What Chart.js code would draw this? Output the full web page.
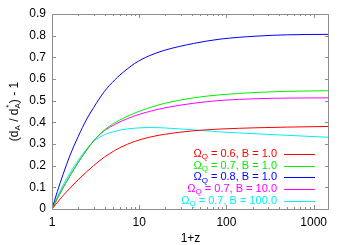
<!DOCTYPE html>
<html>
<head>
<meta charset="utf-8">
<script src="https://cdn.jsdelivr.net/npm/chart.js@4/dist/chart.umd.min.js"></script>
<style>
  html, body { margin: 0; padding: 0; background: #fff; }
</style>
</head>
<body>
<canvas id="grafico" width="349" height="245"></canvas>
<script>
// valores
const umMaisZ = [1, 1.15, 1.34, 1.6, 2, 2.5, 3, 4, 5.25, 6, 8.9, 13, 19.7, 42, 84.5, 224, 500, 1500];
const serieVermelha = [0, .03, .062, .095, .135, .172, .2, .24, .27, .283, .312, .331, .345, .361, .369, .375, .378, .381];
const serieVerde = [0, .048, .098, .152, .215, .272, .315, .365, .398, .411, .443, .467, .488, .513, .527, .538, .543, .546];
const serieAzul = [0, .08, .16, .245, .335, .415, .468, .543, .596, .618, .672, .707, .733, .764, .784, .798, .804, .806];
const serieMagenta = [0, .048, .098, .152, .215, .272, .315, .362, .39, .402, .43, .45, .467, .488, .501, .509, .512, .513];
const serieCiano = [0, .055, .11, .165, .225, .277, .312, .343, .358, .364, .373, .376, .374, .365, .356, .347, .34, .331];
const rotulosLegenda = [
    ['0.6', '1.0'],
    ['0.7', '1.0'],
    ['0.8', '1.0'],
    ['0.7', '10.0'],
    ['0.7', '100.0']
];
const ticksX = [1, 10, 100, 1000];
const ticksY = [0, 0.1, 0.2, 0.3, 0.4, 0.5, 0.6, 0.7, 0.8, 0.9];

const cores = ['rgb(255,0,0)', 'rgb(0,240,0)', 'rgb(0,0,255)', 'rgb(255,0,255)', 'rgb(0,240,240)'];
const series = [serieVermelha, serieVerde, serieAzul, serieMagenta, serieCiano];
const fonte = "'Liberation Sans', Arial, Helvetica, sans-serif";

const datasets = series.map((s, i) => ({
    label: 'Ω_Q = ' + rotulosLegenda[i][0] + ', B = ' + rotulosLegenda[i][1],
    data: umMaisZ.map((x, j) => ({x: x, y: s[j]})),
    borderColor: cores[i],
    borderWidth: 1,
    pointRadius: 0,
    fill: false,
    cubicInterpolationMode: 'monotone'
}));

// moldura, marcas, titulos e legenda no estilo gnuplot
const estiloGnuplot = {
    id: 'estiloGnuplot',
    afterDraw(chart) {
        const ctx = chart.ctx;
        const a = chart.chartArea;
        const sx = chart.scales.x, sy = chart.scales.y;
        ctx.save();
        ctx.strokeStyle = '#8c8c8c';
        ctx.lineWidth = 1;
        ctx.strokeRect(a.left + .5, a.top + .5, a.right - a.left - 1, a.bottom - a.top);
        ctx.beginPath();
        for (let d = 1; d <= 1000; d *= 10) {
            for (let k = 1; k <= 9; k++) {
                const v = d * k;
                if (v > 1500) break;
                const px = Math.round(sx.getPixelForValue(v)) + .5;
                const len = k === 1 ? 4 : 2;
                ctx.moveTo(px, a.bottom); ctx.lineTo(px, a.bottom - len);
                ctx.moveTo(px, a.top); ctx.lineTo(px, a.top + len);
            }
        }
        ticksY.forEach(v => {
            const py = Math.round(sy.getPixelForValue(v)) + .5;
            ctx.moveTo(a.left, py); ctx.lineTo(a.left + 4, py);
            ctx.moveTo(a.right, py); ctx.lineTo(a.right - 4, py);
        });
        ctx.stroke();

        // titulo do eixo x
        ctx.fillStyle = '#000';
        ctx.font = '12px ' + fonte;
        ctx.textAlign = 'center';
        ctx.textBaseline = 'middle';
        ctx.fillText('1+z', (a.left + a.right) / 2, 239);

        // titulo do eixo y: (d_A / d_A^*) - 1
        ctx.save();
        ctx.translate(15, (a.top + a.bottom) / 2);
        ctx.rotate(-Math.PI / 2);
        ctx.textAlign = 'left';
        ctx.textBaseline = 'middle';
        const partes = [
            ['(d', 0, 12], ['A', 3, 8], [' / d', 0, 12], ['A', 3, 8], [') - 1', 0, 12]
        ];
        let total = 0;
        partes.forEach(p => { ctx.font = p[2] + 'px ' + fonte; total += ctx.measureText(p[0]).width; });
        let cx = -total / 2;
        partes.forEach((p, i) => {
            ctx.font = p[2] + 'px ' + fonte;
            ctx.fillText(p[0], cx, p[1]);
            const w = ctx.measureText(p[0]).width;
            if (i === 3) {
                ctx.font = '8px ' + fonte;
                ctx.fillText('*', cx + w / 2 - 2, -6);
            }
            cx += w;
        });
        ctx.restore();

        // legenda
        const direita = 277;
        rotulosLegenda.forEach((r, i) => {
            const y = 154 + i * 11.7;
            const pedacos = [['Ω', 0, 11], ['Q', 3, 8], [' = ' + r[0] + ', B = ' + r[1], 0, 11]];
            let w = 0;
            pedacos.forEach(p => { ctx.font = p[2] + 'px ' + fonte; w += ctx.measureText(p[0]).width; });
            let px = direita - w;
            ctx.fillStyle = cores[i];
            ctx.textAlign = 'left';
            ctx.textBaseline = 'middle';
            pedacos.forEach(p => {
                ctx.font = p[2] + 'px ' + fonte;
                ctx.fillText(p[0], px, y + p[1]);
                px += ctx.measureText(p[0]).width;
            });
            ctx.strokeStyle = cores[i];
            ctx.beginPath();
            ctx.moveTo(284, Math.round(y) + .5);
            ctx.lineTo(315, Math.round(y) + .5);
            ctx.stroke();
        });
        ctx.restore();
    }
};

const grafico = new Chart(document.getElementById('grafico'), {
    type: 'line',
    data: { datasets: datasets },
    options: {
        responsive: false,
        animation: false,
        layout: { padding: { top: 14, right: 20, left: 0, bottom: 0 } },
        plugins: {
            legend: { display: false },
            tooltip: { enabled: false }
        },
        scales: {
            x: {
                type: 'logarithmic',
                min: 1,
                max: 1500,
                grid: { display: false, drawTicks: false },
                border: { display: false },
                afterBuildTicks: (eixo) => { eixo.ticks = ticksX.map(v => ({ value: v })); },
                afterFit: (eixo) => { eixo.height = 36; },
                ticks: {
                    autoSkip: false,
                    maxRotation: 0,
                    padding: 6,
                    color: '#000',
                    font: { family: fonte, size: 12 },
                    callback: (v) => String(v)
                }
            },
            y: {
                min: 0,
                max: 0.9,
                grid: { display: false, drawTicks: false },
                border: { display: false },
                afterBuildTicks: (eixo) => { eixo.ticks = ticksY.map(v => ({ value: v })); },
                afterFit: (eixo) => { eixo.width = 52; },
                ticks: {
                    padding: 6,
                    color: '#000',
                    font: { family: fonte, size: 12 },
                    callback: (v) => v === 0 ? '0' : v.toFixed(1)
                }
            }
        }
    },
    plugins: [estiloGnuplot]
});
</script>
</body>
</html>
